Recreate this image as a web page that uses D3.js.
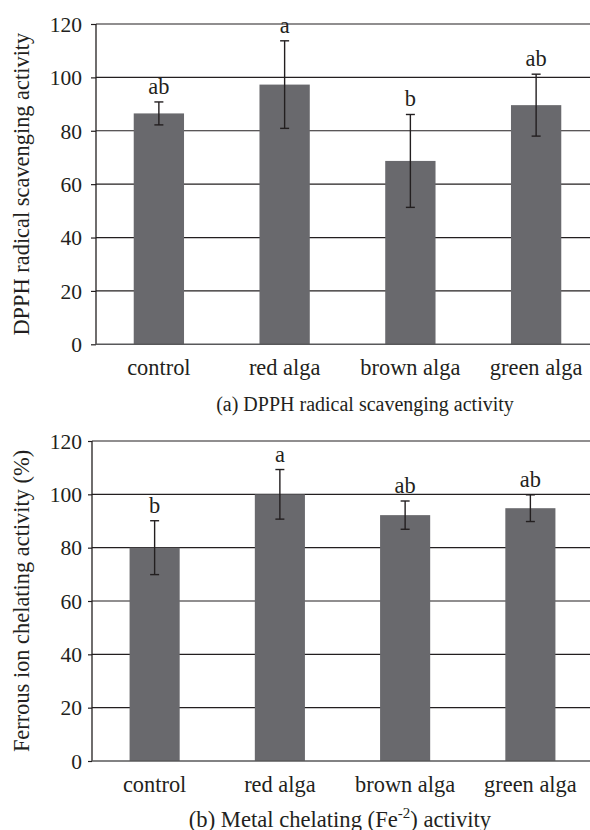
<!DOCTYPE html>
<html>
<head>
<script src="https://cdnjs.cloudflare.com/ajax/libs/d3/7.8.5/d3.min.js"></script>
<style>
  body { margin: 0; background: #fff; }
  text { font-family: "Liberation Serif", "Times New Roman", serif; fill: #231f20; }
</style>
</head>
<body>
<div id="vis"></div>
<script>
const categories = ["control", "red alga", "brown alga", "green alga"];
const yTicks = [0, 20, 40, 60, 80, 100, 120];

// (a) DPPH radical scavenging activity
const dpphMean = [86.5, 97.3, 68.7, 89.6];
const dpphErr = [4.3, 16.4, 17.4, 11.6];
const dpphLetters = ["ab", "a", "b", "ab"];

// (b) metal chelating activity
const chelMean = [80.0, 100.0, 92.2, 94.8];
const chelErr = [10.1, 9.3, 5.3, 5.0];
const chelLetters = ["b", "a", "ab", "ab"];

const W = 590, H = 830;
const svg = d3.select("#vis").append("svg").attr("width", W).attr("height", H);

function panel(opt) {
  const x = d3.scaleBand().domain(categories).range([opt.left, opt.right]).paddingInner(0.6).paddingOuter(0.3);
  const y = d3.scaleLinear().domain([0, 120]).range([opt.bottom, opt.top]);
  const g = svg.append("g");

  // gridlines
  g.selectAll("line.grid").data(yTicks.filter(d => d > 0)).enter()
    .append("line")
    .attr("x1", opt.left).attr("x2", opt.right)
    .attr("y1", d => y(d)).attr("y2", d => y(d))
    .style("stroke", "#231f20").style("stroke-width", 1.2);

  // y axis
  const ax = g.append("g").attr("transform", `translate(${opt.left},0)`)
    .call(d3.axisLeft(y).tickValues(yTicks).tickSize(opt.tickSize).tickPadding(opt.tickPad));
  ax.attr("font-family", null).attr("font-size", null);
  ax.select(".domain").attr("d", `M0,${y(120)}V${y(0)}`).style("stroke", "#231f20").style("stroke-width", 1.3);
  ax.selectAll(".tick line").style("stroke", "#231f20").style("stroke-width", 1.2);
  ax.selectAll(".tick text").style("font-size", "21.5px").attr("dy", "0.34em")
    .style("fill", "#231f20");

  // bars
  g.selectAll("rect.bar").data(opt.mean).enter()
    .append("rect")
    .attr("x", (d, i) => x(categories[i]))
    .attr("width", x.bandwidth())
    .attr("y", d => y(d))
    .attr("height", d => y(0) - y(d))
    .style("fill", "#69696d");

  // baseline
  g.append("line")
    .attr("x1", opt.left).attr("x2", opt.right)
    .attr("y1", y(0)).attr("y2", y(0))
    .style("stroke", "#58585a").style("stroke-width", 1.6);

  // error bars
  const cx = i => x(categories[i]) + x.bandwidth() / 2;
  const eb = g.selectAll("g.err").data(opt.mean).enter().append("g");
  eb.append("line")
    .attr("x1", (d, i) => cx(i)).attr("x2", (d, i) => cx(i))
    .attr("y1", (d, i) => y(d + opt.err[i])).attr("y2", (d, i) => y(d - opt.err[i]));
  eb.append("line")
    .attr("x1", (d, i) => cx(i) - 4.5).attr("x2", (d, i) => cx(i) + 4.5)
    .attr("y1", (d, i) => y(d + opt.err[i])).attr("y2", (d, i) => y(d + opt.err[i]));
  eb.append("line")
    .attr("x1", (d, i) => cx(i) - 4.5).attr("x2", (d, i) => cx(i) + 4.5)
    .attr("y1", (d, i) => y(d - opt.err[i])).attr("y2", (d, i) => y(d - opt.err[i]));
  eb.selectAll("line").style("stroke", "#231f20").style("stroke-width", 1.4);

  // significance letters
  g.selectAll("text.letter").data(opt.letters).enter()
    .append("text")
    .attr("x", (d, i) => cx(i))
    .attr("y", (d, i) => y(opt.mean[i] + opt.err[i]) - 8)
    .attr("text-anchor", "middle")
    .style("font-size", "22.4px")
    .text(d => d);

  // category labels
  g.selectAll("text.cat").data(categories).enter()
    .append("text")
    .attr("x", d => x(d) + x.bandwidth() / 2)
    .attr("y", opt.catY)
    .attr("text-anchor", "middle")
    .style("font-size", "22.4px")
    .text(d => d);

  // y label
  g.append("text")
    .attr("transform", `translate(29,${(opt.top + opt.bottom) / 2}) rotate(-90)`)
    .attr("text-anchor", "middle")
    .style("font-size", "22.4px")
    .text(opt.yLabel);

  return { x, y, g };
}

panel({
  left: 96, right: 599, top: 24, bottom: 344.3, tickSize: 5, tickPad: 9,
  mean: dpphMean, err: dpphErr, letters: dpphLetters, catY: 375,
  yLabel: "DPPH radical scavenging activity"
});
svg.append("text").attr("x", 365).attr("y", 411).attr("text-anchor", "middle")
  .style("font-size", "20px").text("(a) DPPH radical scavenging activity");

panel({
  left: 92, right: 593, top: 441, bottom: 761, tickSize: 4, tickPad: 6,
  mean: chelMean, err: chelErr, letters: chelLetters, catY: 791.5,
  yLabel: "Ferrous ion chelating activity (%)"
});
const t2 = svg.append("text").attr("x", 340).attr("y", 826.5).attr("text-anchor", "middle")
  .style("font-size", "22.6px");
t2.append("tspan").text("(b) Metal chelating (Fe");
t2.append("tspan").attr("dy", -9).style("font-size", "15px").text("-2");
t2.append("tspan").attr("dy", 9).text(") activity");
</script>
</body>
</html>
